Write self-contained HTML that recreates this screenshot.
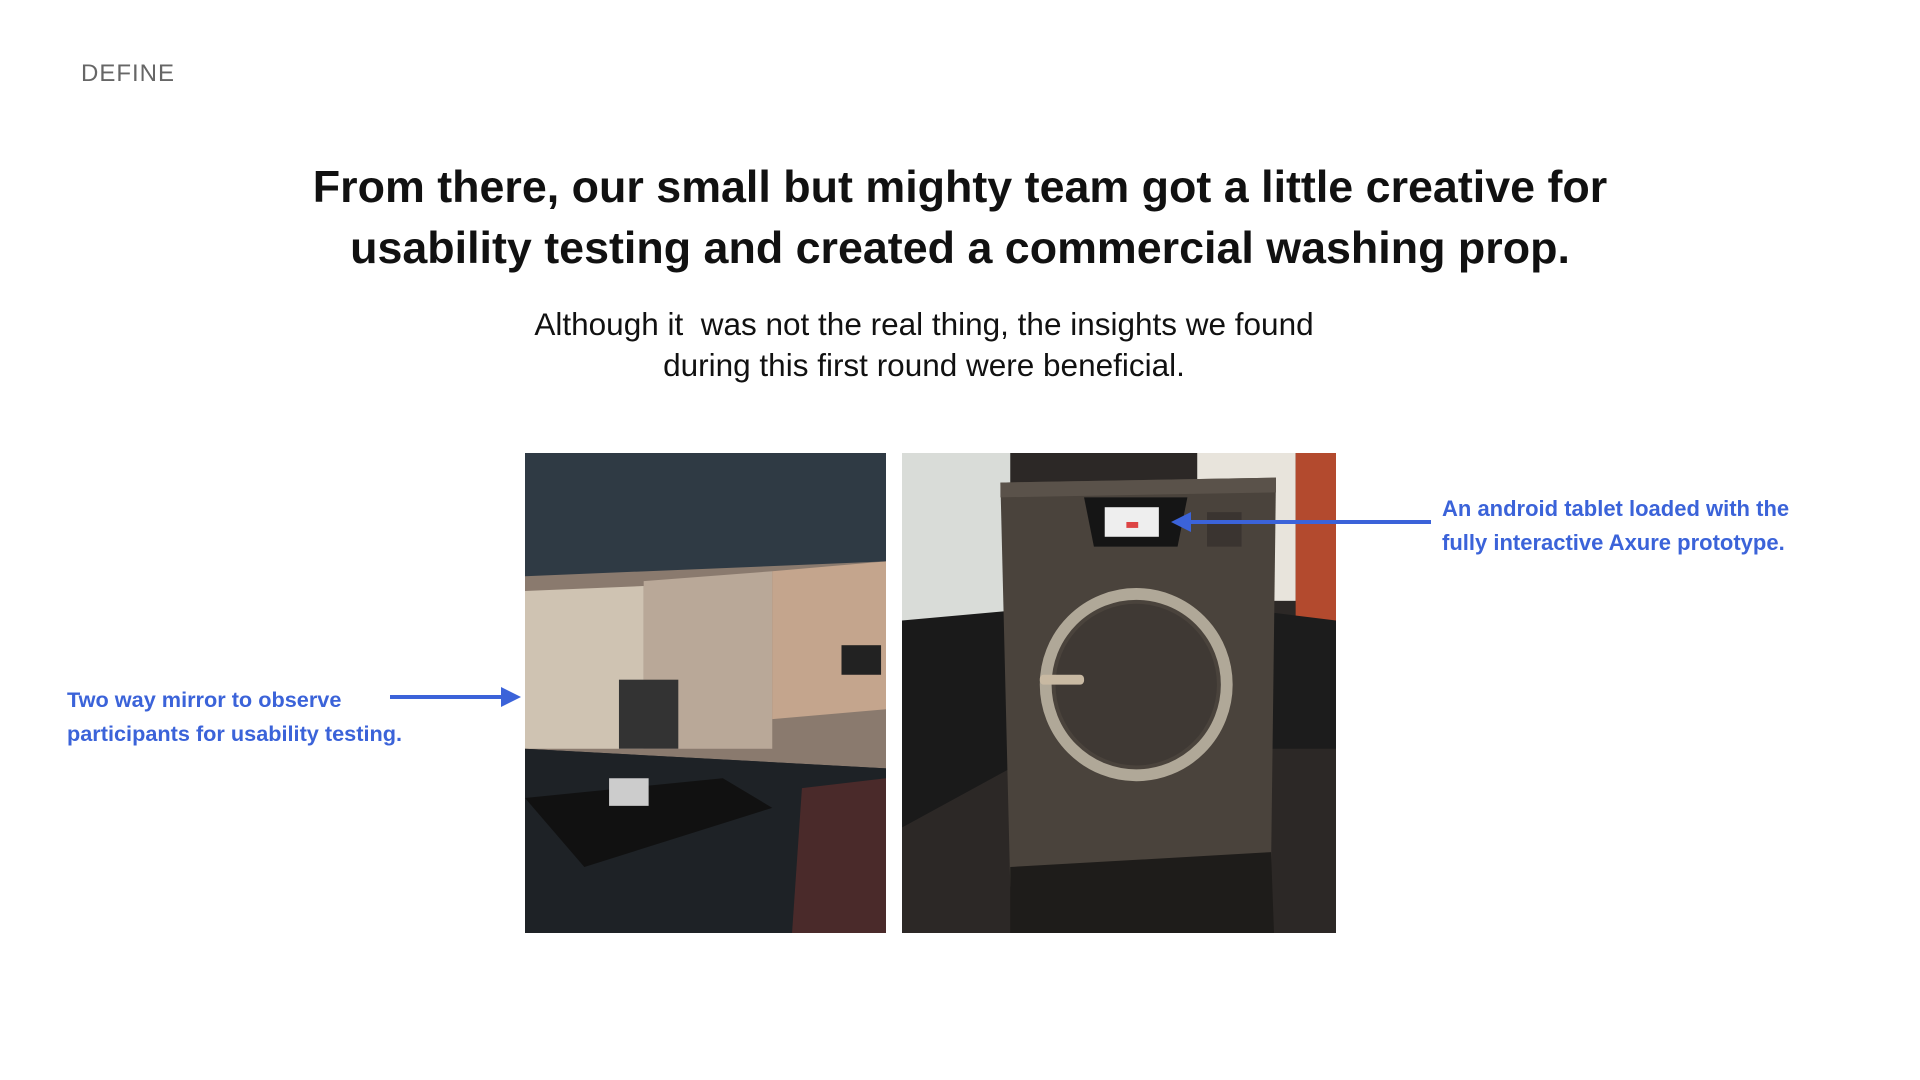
<!DOCTYPE html>
<html><head><meta charset="utf-8"><style>
*{margin:0;padding:0;box-sizing:border-box}
body{width:1920px;height:1080px;background:#fff;position:relative;overflow:hidden;font-family:"Liberation Sans",sans-serif}
.t{position:absolute;white-space:nowrap}
#def{left:81px;top:60px;font-size:24px;color:#666;letter-spacing:1px}
#h{left:0;width:1920px;top:157px;text-align:center;font-size:44.8px;font-weight:bold;line-height:61px;color:#111}
#s{left:0;width:1848px;top:304px;text-align:center;font-size:31.5px;line-height:41px;color:#111}
.lab{font-weight:bold;color:#3b63d9;line-height:34px}
#p1{position:absolute;left:525px;top:453px;width:361px;height:480px;overflow:hidden;background:#252a30}
#p2{position:absolute;left:902px;top:453px;width:434px;height:480px;overflow:hidden;background:#3a3430}
</style></head><body>
<div id="def" class="t">DEFINE</div>
<div id="h" class="t">From there, our small but mighty team got a little creative for<br>usability testing and created a commercial washing prop.</div>
<div id="s" class="t">Although it&nbsp; was not the real thing, the insights we found<br>during this first round were beneficial.</div>

<div id="p1"><svg width="361" height="480" viewBox="0 0 365 487" preserveAspectRatio="none">
<rect width="365" height="487" fill="#232830"/>
<polygon points="0,0 365,0 365,110 0,160" fill="#2f3a44"/>
<polygon points="0,125 365,110 365,320 0,300" fill="#8a7a6e"/>
<polygon points="0,140 120,135 120,300 0,300" fill="#cfc3b2"/>
<polygon points="120,130 250,120 250,300 120,300" fill="#b9a898"/>
<polygon points="250,120 365,110 365,260 250,270" fill="#c4a58d"/>
<rect x="320" y="195" width="40" height="30" fill="#222"/>
<rect x="95" y="230" width="60" height="70" fill="#333"/>
<polygon points="0,300 365,320 365,487 0,487" fill="#1e2226"/>
<polygon points="0,350 200,330 250,360 60,420" fill="#111"/>
<rect x="85" y="330" width="40" height="28" fill="#ccc"/>
<polygon points="280,340 365,330 365,487 270,487" fill="#4a2a2a"/>
</svg></div>

<div id="p2"><svg width="434" height="480" viewBox="0 0 441 487" preserveAspectRatio="none">
<rect width="441" height="487" fill="#2c2826"/>
<rect x="0" y="0" width="110" height="170" fill="#d9dcd8"/>
<rect x="300" y="0" width="100" height="150" fill="#e8e4dc"/>
<rect x="400" y="0" width="41" height="200" fill="#b34a2e"/>
<polygon points="0,170 110,160 110,320 0,380" fill="#1a1a1a"/>
<polygon points="360,160 441,170 441,300 360,300" fill="#1c1c1c"/>
<polygon points="100,30 380,25 375,420 110,440" fill="#4a433c"/>
<polygon points="100,30 380,25 380,40 100,45" fill="#5a524a"/>
<polygon points="110,420 375,405 378,487 110,487" fill="#1e1c1a"/>
<polygon points="185,45 290,45 280,95 195,95" fill="#151515"/>
<rect x="206" y="55" width="55" height="30" fill="#eee"/>
<rect x="228" y="70" width="12" height="6" fill="#d44"/>
<circle cx="238" cy="235" r="92" fill="none" stroke="#b0a898" stroke-width="12"/>
<circle cx="238" cy="235" r="82" fill="#3f3934"/>
<rect x="140" y="225" width="45" height="10" rx="4" fill="#c8b9a2"/>
<rect x="310" y="60" width="35" height="35" fill="#3a3430"/>
</svg></div>

<div class="t lab" style="left:67px;top:683px;font-size:21.7px">Two way mirror to observe<br>participants for usability testing.</div>
<div class="t lab" style="left:1442px;top:492px;font-size:22px">An android tablet loaded with the<br>fully interactive Axure prototype.</div>

<svg style="position:absolute;left:0;top:0" width="1920" height="1080">
<line x1="390" y1="697" x2="505" y2="697" stroke="#3b63d9" stroke-width="4"/>
<polygon points="521,697 501,687 501,707" fill="#3b63d9"/>
<line x1="1431" y1="522" x2="1187" y2="522" stroke="#3b63d9" stroke-width="4"/>
<polygon points="1171,522 1191,512 1191,532" fill="#3b63d9"/>
</svg>
</body></html>
